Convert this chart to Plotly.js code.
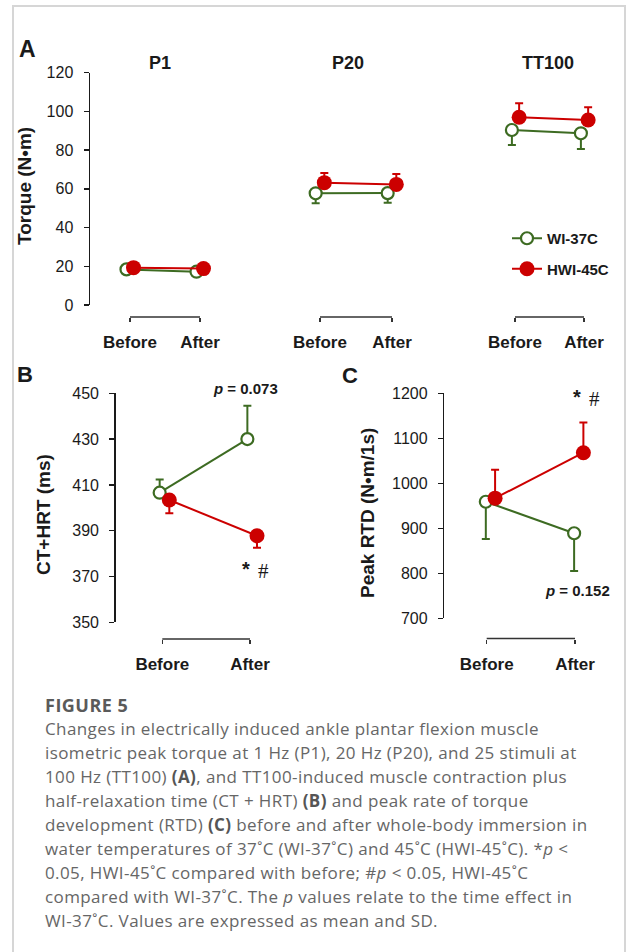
<!DOCTYPE html>
<html>
<head>
<meta charset="utf-8">
<script src="https://cdn.plot.ly/plotly-3.0.1.min.js"></script>
<style>
  html, body { margin: 0; padding: 0; background: #fff; }
  #wrap { position: relative; width: 628px; height: 952px; overflow: hidden; }
  #chart { position: absolute; left: 0; top: 0; width: 628px; height: 952px; }
  #frame { position: absolute; left: 12px; top: 5px; width: 614px; height: 960px;
           border: 2px solid #d6d6d6; box-sizing: border-box; pointer-events: none; }
  #caption { position: absolute; left: 45px; top: 693px; font-family: "Open Sans", "Noto Sans", sans-serif;
             color: #666666; font-size: 17px; letter-spacing: 0.4px; line-height: 24px; white-space: nowrap; }
  #caption .fig { font-weight: 700; color: #5a5a5a; font-size: 18px; letter-spacing: 0.5px; }
  #caption b { color: #555; }
</style>
</head>
<body>
<div id="wrap">
  <div id="chart"></div>
  <div id="caption">
    <div class="fig">FIGURE 5</div>
    <div>Changes in electrically induced ankle plantar flexion muscle</div>
    <div>isometric peak torque at 1 Hz (P1), 20 Hz (P20), and 25 stimuli at</div>
    <div>100 Hz (TT100) <b>(A)</b>, and TT100-induced muscle contraction plus</div>
    <div>half-relaxation time (CT + HRT) <b>(B)</b> and peak rate of torque</div>
    <div>development (RTD) <b>(C)</b> before and after whole-body immersion in</div>
    <div>water temperatures of 37˚C (WI-37˚C) and 45˚C (HWI-45˚C). *<i>p</i> &lt;</div>
    <div>0.05, HWI-45˚C compared with before; #<i>p</i> &lt; 0.05, HWI-45˚C</div>
    <div>compared with WI-37˚C. The <i>p</i> values relate to the time effect in</div>
    <div>WI-37˚C. Values are expressed as mean and SD.</div>
  </div>
  <div id="frame"></div>
</div>
<script>
// ---------------- DATA ----------------
const timepoints = ['Before', 'After'];
const groupNames = ['WI-37C', 'HWI-45C'];
const panelATitles = ['P1', 'P20', 'TT100'];

// Panel A: torque (N·m), mean and SD
const wi37_P1    = [18.4, 17.2];  const wi37_P1_sd    = [1.5, 1.5];
const hwi45_P1   = [19.3, 18.8];  const hwi45_P1_sd   = [1.2, 1.2];
const wi37_P20   = [57.7, 57.8];  const wi37_P20_sd   = [5.2, 5.0];
const hwi45_P20  = [63.2, 62.3];  const hwi45_P20_sd  = [5.0, 5.4];
const wi37_TT100 = [90.4, 88.7];  const wi37_TT100_sd = [7.8, 8.1];
const hwi45_TT100= [97.0, 95.6];  const hwi45_TT100_sd= [7.2, 6.5];

// Panel B: CT+HRT (ms)
const wi37_CTHRT  = [406.6, 430.0]; const wi37_CTHRT_sd  = [5.8, 14.6];
const hwi45_CTHRT = [403.4, 387.8]; const hwi45_CTHRT_sd = [5.8, 5.2];

// Panel C: peak RTD (N·m/1s)
const wi37_RTD  = [959, 889];  const wi37_RTD_sd  = [83, 84];
const hwi45_RTD = [967, 1068]; const hwi45_RTD_sd = [63, 67];

// ---------------- STYLE / LAYOUT HELPERS ----------------
const W = 628, H = 952;
const GREEN = '#3d6b22', RED = '#cc0000', INK = '#1a1a1a';
const ARIAL = 'Arial, "Liberation Sans", sans-serif';
const px = x => x / W;
const py = y => 1 - y / H;

function xAxis(t0, t1, padL, padR, bracketY) {
  const u = t1 - t0;
  return {
    domain: [px(t0 - padL), px(t1 + padR)],
    range: [-padL / u, 1 + padR / u],
    anchor: 'free', position: py(bracketY),
    showline: false, zeroline: false, showgrid: false,
    tickmode: 'array', tickvals: [0, 1], ticktext: timepoints,
    ticks: 'outside', ticklen: 4, tickwidth: 1.5, tickcolor: '#333',
    tickfont: { family: ARIAL, size: 17, color: INK, weight: 700 },
    ticklabelstandoff: 6, fixedrange: true
  };
}
function yAxis(top, bottom, range, dtick, anchor) {
  return {
    domain: [py(bottom), py(top)], range: range, dtick: dtick, tick0: range[0],
    anchor: anchor, showline: true, linecolor: INK, linewidth: 1.5,
    ticks: 'outside', ticklen: 5, tickwidth: 1.5, tickcolor: INK,
    showgrid: false, zeroline: false,
    tickfont: { family: ARIAL, size: 16, color: INK },
    ticklabelstandoff: 7, fixedrange: true
  };
}
function bracket(xref, yPix) {
  return { type: 'line', xref: xref, yref: 'paper', x0: 0, x1: 1, y0: py(yPix), y1: py(yPix),
           line: { color: '#333', width: 1.5 } };
}
function trace(xa, ya, vals, sd, dir, isWI, off, showleg) {
  const zeros = vals.map(() => 0);
  return {
    type: 'scatter', mode: 'lines+markers',
    x: timepoints.map((_, i) => i + off), y: vals,
    xaxis: xa, yaxis: ya,
    name: isWI ? groupNames[0] : groupNames[1],
    legendgroup: isWI ? 'wi' : 'hwi', showlegend: showleg,
    line: { color: isWI ? GREEN : RED, width: 2 },
    marker: isWI ? { symbol: 'circle', size: 12, color: '#ffffff', line: { color: GREEN, width: 2.2 } }
                 : { symbol: 'circle', size: 15, color: RED },
    error_y: { type: 'data', symmetric: false,
               array: dir === 'up' ? sd : zeros, arrayminus: dir === 'down' ? sd : zeros,
               color: isWI ? GREEN : RED, thickness: 2, width: 4 },
    cliponaxis: false, hoverinfo: 'skip'
  };
}

// pixel anchors of the panels
const A_ticks = [[130, 200], [320, 392], [515, 584]];
const A_bracketY = 317;

const data = [
  trace('x',  'y',  wi37_P1,    wi37_P1_sd,    'down', true,  -0.05, true),
  trace('x2', 'y',  wi37_P20,   wi37_P20_sd,   'down', true,  -0.06, false),
  trace('x3', 'y',  wi37_TT100, wi37_TT100_sd, 'down', true,  -0.045, false),
  trace('x4', 'y2', wi37_CTHRT, wi37_CTHRT_sd, 'up',   true,  -0.03, false),
  trace('x5', 'y3', wi37_RTD,   wi37_RTD_sd,   'down', true,  -0.01, false),
  trace('x',  'y',  hwi45_P1,    hwi45_P1_sd,    'up',   false, 0.05, true),
  trace('x2', 'y',  hwi45_P20,   hwi45_P20_sd,   'up',   false, 0.06, false),
  trace('x3', 'y',  hwi45_TT100, hwi45_TT100_sd, 'up',   false, 0.06, false),
  trace('x4', 'y2', hwi45_CTHRT, hwi45_CTHRT_sd, 'down', false, 0.08, false),
  trace('x5', 'y3', hwi45_RTD,   hwi45_RTD_sd,   'up',   false, 0.095, false)
];

function ann(text, x, y, size, opts) {
  return Object.assign({ text: text, xref: 'paper', yref: 'paper', x: px(x), y: py(y),
    xanchor: 'center', yanchor: 'middle', showarrow: false,
    font: { family: ARIAL, size: size, color: INK } }, opts || {});
}
const SERIF = { family: '"Liberation Serif", "DejaVu Serif", serif', size: 21, color: INK };

const annotations = [
  ann('<b>A</b>', 27, 49, 23),
  ann('<b>B</b>', 25, 375, 22),
  ann('<b>C</b>', 350, 376, 22),
  ann('<b>' + panelATitles[0] + '</b>', 160, 63, 18),
  ann('<b>' + panelATitles[1] + '</b>', 348, 63, 18),
  ann('<b>' + panelATitles[2] + '</b>', 548, 63, 18),
  ann('<b>Torque (N•m)</b>', 25, 186, 19, { textangle: -90 }),
  ann('<b>CT+HRT (ms)</b>', 43, 515, 19, { textangle: -90 }),
  ann('<b>Peak RTD (N•m/1s)</b>', 367, 513, 19, { textangle: -90 }),
  ann('<b><i>p</i> = 0.073</b>', 245, 388, 15),
  ann('<b><i>p</i> = 0.152</b>', 577, 590, 15),
  ann('<b>*</b>', 245.5, 569, 20),
  ann('#', 263.5, 571, 21, { font: SERIF }),
  ann('<b>*</b>', 576.5, 397, 20),
  ann('#', 594.5, 399, 21, { font: SERIF })
];

const layout = {
  width: W, height: H,
  margin: { l: 0, r: 0, t: 0, b: 0 },
  paper_bgcolor: '#ffffff', plot_bgcolor: 'rgba(0,0,0,0)',
  showlegend: true,
  legend: { x: px(507), y: py(222), xanchor: 'left', yanchor: 'top',
            font: { family: ARIAL, size: 15, color: INK, weight: 700 },
            bgcolor: 'rgba(0,0,0,0)', tracegroupgap: 8 },
  xaxis:  xAxis(A_ticks[0][0], A_ticks[0][1], 40, 30, A_bracketY),
  xaxis2: xAxis(A_ticks[1][0], A_ticks[1][1], 30, 30, A_bracketY),
  xaxis3: xAxis(A_ticks[2][0], A_ticks[2][1], 30, 30, A_bracketY),
  xaxis4: xAxis(162.3, 250, 46.6, 30, 639),
  xaxis5: xAxis(486.7, 575, 42.4, 40, 638.5),
  yaxis:  yAxis(72.7, 305, [0, 120], 20, 'x'),
  yaxis2: yAxis(393.3, 622.3, [350, 450], 20, 'x4'),
  yaxis3: yAxis(393.3, 618.3, [700, 1200], 100, 'x5'),
  shapes: [
    bracket('x', A_bracketY), bracket('x2', A_bracketY), bracket('x3', A_bracketY),
    bracket('x4', 639), bracket('x5', 638.5)
  ],
  annotations: annotations
};

Plotly.newPlot('chart', data, layout, { staticPlot: true, displayModeBar: false });
</script>
</body>
</html>
